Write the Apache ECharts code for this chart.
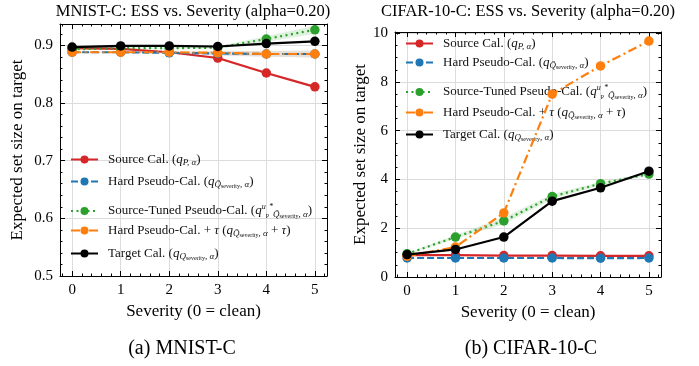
<!DOCTYPE html>
<html>
<head>
<meta charset="utf-8">
<script src="https://cdn.jsdelivr.net/npm/echarts@6/dist/echarts.min.js"></script>
<style>
  html, body { margin: 0; padding: 0; background: #fff; }
  #chart { width: 699px; height: 366px; }
</style>
</head>
<body>
<div id="chart"></div>
<script>
// Severity levels (0 = clean)
const severity = [0, 1, 2, 3, 4, 5];

// MNIST-C expected set size per calibration method
const mnistSource      = [0.895, 0.894, 0.888, 0.878, 0.852, 0.828];
const mnistHard        = [0.888, 0.888, 0.887, 0.886, 0.885, 0.885];
const mnistTuned       = [0.893, 0.895, 0.895, 0.896, 0.911, 0.927];
const mnistHardTau     = [0.888, 0.888, 0.888, 0.887, 0.885, 0.885];
const mnistTarget      = [0.897, 0.899, 0.899, 0.898, 0.903, 0.907];
// MNIST-C spread (half-width of shaded band)
const mnistSourceSd    = [0.001, 0.001, 0.001, 0.002, 0.002, 0.002];
const mnistHardSd      = [0.001, 0.001, 0.001, 0.004, 0.005, 0.006];
const mnistTunedSd     = [0.001, 0.001, 0.001, 0.002, 0.005, 0.007];
const mnistHardTauSd   = [0.001, 0.001, 0.001, 0.004, 0.005, 0.006];

// CIFAR-10-C expected set size per calibration method
const cifarSource      = [0.90, 0.90, 0.88, 0.88, 0.87, 0.87];
const cifarHard        = [0.78, 0.78, 0.78, 0.78, 0.77, 0.78];
const cifarTuned       = [0.95, 1.64, 2.30, 3.30, 3.83, 4.22];
const cifarHardTau     = [0.85, 1.23, 2.63, 7.50, 8.66, 9.68];
const cifarTarget      = [0.92, 1.13, 1.64, 3.11, 3.66, 4.34];
const cifarTunedSd     = [0.02, 0.08, 0.14, 0.10, 0.07, 0.05];

// Tick values
const xTicks      = [0, 1, 2, 3, 4, 5];
const mnistYTicks = [0.5, 0.6, 0.7, 0.8, 0.9];
const cifarYTicks = [0, 2, 4, 6, 8, 10];

const titles   = ['MNIST-C: ESS vs. Severity (alpha=0.20)', 'CIFAR-10-C: ESS vs. Severity (alpha=0.20)'];
const captions = ['(a) MNIST-C', '(b) CIFAR-10-C'];
const xName = 'Severity (0 = clean)';
const yName = 'Expected set size on target';

const names = ['Source Cal.', 'Hard Pseudo-Cal.', 'Source-Tuned Pseudo-Cal.', 'Hard Pseudo-Cal. + τ', 'Target Cal.'];
const colors = ['#d62728', '#1f77b4', '#2ca02c', '#ff7f0e', '#000000'];
const dashes = ['solid', [7, 3], [2, 3.5], [9, 3.5, 2, 3.5], 'solid'];

const SERIF = '"Liberation Serif", "DejaVu Serif", serif';

function minorBetween(majors, step, lo, hi) {
  const out = [];
  const n = Math.round((hi - lo) / step);
  for (let i = 0; i <= n; i++) {
    const v = +(lo + i * step).toFixed(6);
    if (!majors.some(m => Math.abs(m - v) < 1e-9)) out.push(v);
  }
  return out;
}

const xMinor = minorBetween(xTicks, 0.2, -0.2, 5.2);
const mnistYMinor = minorBetween(mnistYTicks, 0.02, 0.52, 0.92);
const cifarYMinor = minorBetween(cifarYTicks, 0.5, 0.5, 9.5);

const grids = [
  { left: 60, top: 24, width: 267, height: 252 },
  { left: 395, top: 32, width: 266, height: 245 }
];

const xAxes = [];
const yAxes = [];
const black = { color: '#000', width: 1 };

function addAxes(gi, yMin, yMax, yMaj, yMin2, yNameGap) {
  const xr = { min: -0.25, max: 5.25 };
  const yr = { min: yMin, max: yMax };
  // bottom major
  xAxes.push(Object.assign({
    type: 'value', gridIndex: gi, position: 'bottom',
    axisLine: { show: true, onZero: false, lineStyle: black },
    axisTick: { show: true, inside: true, length: 5, customValues: xTicks, lineStyle: black },
    axisLabel: { customValues: xTicks, fontFamily: SERIF, fontSize: 15, color: '#000', margin: 7 },
    splitLine: { show: true, lineStyle: { color: '#dcdcdc', width: 1 } },
    name: xName, nameLocation: 'middle', nameGap: 23,
    nameTextStyle: { fontFamily: SERIF, fontSize: 17, color: '#000' }
  }, xr));
  // bottom minor
  xAxes.push(Object.assign({
    type: 'value', gridIndex: gi, position: 'bottom',
    axisLine: { show: false, onZero: false },
    axisTick: { show: true, inside: true, length: 2.5, customValues: xMinor, lineStyle: black },
    axisLabel: { show: false }, splitLine: { show: false }
  }, xr));
  // top major
  xAxes.push(Object.assign({
    type: 'value', gridIndex: gi, position: 'top',
    axisLine: { show: true, onZero: false, lineStyle: black },
    axisTick: { show: true, inside: true, length: 5, customValues: xTicks, lineStyle: black },
    axisLabel: { show: false }, splitLine: { show: false }
  }, xr));
  // top minor
  xAxes.push(Object.assign({
    type: 'value', gridIndex: gi, position: 'top',
    axisLine: { show: false, onZero: false },
    axisTick: { show: true, inside: true, length: 2.5, customValues: xMinor, lineStyle: black },
    axisLabel: { show: false }, splitLine: { show: false }
  }, xr));

  // left major
  yAxes.push(Object.assign({
    type: 'value', gridIndex: gi, position: 'left',
    axisLine: { show: true, onZero: false, lineStyle: black },
    axisTick: { show: true, inside: true, length: 5, customValues: yMaj, lineStyle: black },
    axisLabel: { customValues: yMaj, fontFamily: SERIF, fontSize: 15, color: '#000', margin: 7 },
    splitLine: { show: true, lineStyle: { color: '#dcdcdc', width: 1 } },
    name: yName, nameLocation: 'middle', nameGap: yNameGap, nameRotate: 90,
    nameTextStyle: { fontFamily: SERIF, fontSize: 17, color: '#000' }
  }, yr));
  yAxes.push(Object.assign({
    type: 'value', gridIndex: gi, position: 'left',
    axisLine: { show: false, onZero: false },
    axisTick: { show: true, inside: true, length: 2.5, customValues: yMin2, lineStyle: black },
    axisLabel: { show: false }, splitLine: { show: false }
  }, yr));
  yAxes.push(Object.assign({
    type: 'value', gridIndex: gi, position: 'right',
    axisLine: { show: true, onZero: false, lineStyle: black },
    axisTick: { show: true, inside: true, length: 5, customValues: yMaj, lineStyle: black },
    axisLabel: { show: false }, splitLine: { show: false }
  }, yr));
  yAxes.push(Object.assign({
    type: 'value', gridIndex: gi, position: 'right',
    axisLine: { show: false, onZero: false },
    axisTick: { show: true, inside: true, length: 2.5, customValues: yMin2, lineStyle: black },
    axisLabel: { show: false }, splitLine: { show: false }
  }, yr));
}

addAxes(0, 0.5, 0.937, mnistYTicks, mnistYMinor, 34);
addAxes(1, 0, 10.05, cifarYTicks, cifarYMinor, 25);

function bandSeries(gi, values, sd, color) {
  const rows = severity.map((x, i) => [x, values[i] - sd[i], values[i] + sd[i]]);
  return {
    type: 'custom', xAxisIndex: gi * 4, yAxisIndex: gi * 4, silent: true, z: 1,
    data: rows, encode: { x: 0, y: [1, 2] },
    renderItem: function (params, api) {
      if (params.dataIndex !== 0) return null;
      const upper = rows.map(r => api.coord([r[0], r[2]]));
      const lower = rows.map(r => api.coord([r[0], r[1]])).reverse();
      return {
        type: 'polygon',
        shape: { points: upper.concat(lower) },
        style: { fill: color, stroke: null }
      };
    }
  };
}

function lineSeries(gi, k, values) {
  return {
    type: 'line', name: names[k], xAxisIndex: gi * 4, yAxisIndex: gi * 4,
    data: severity.map((x, i) => [x, values[i]]),
    symbol: 'circle', symbolSize: 9.5, showSymbol: true,
    color: colors[k], z: 2 + k,
    lineStyle: { color: colors[k], width: 2.2, type: dashes[k] },
    itemStyle: { color: colors[k], borderWidth: 0 },
    emphasis: { disabled: true },
    animation: false
  };
}

const series = [
  bandSeries(0, mnistSource, mnistSourceSd, 'rgba(214,39,40,0.15)'),
  bandSeries(0, mnistHard, mnistHardSd, 'rgba(31,119,180,0.12)'),
  bandSeries(0, mnistTuned, mnistTunedSd, 'rgba(44,160,44,0.15)'),
  bandSeries(0, mnistHardTau, mnistHardTauSd, 'rgba(255,127,14,0.12)'),
  bandSeries(1, cifarTuned, cifarTunedSd, 'rgba(44,160,44,0.15)')
];
[mnistSource, mnistHard, mnistTuned, mnistHardTau, mnistTarget].forEach((v, k) => series.push(lineSeries(0, k, v)));
[cifarSource, cifarHard, cifarTuned, cifarHardTau, cifarTarget].forEach((v, k) => series.push(lineSeries(1, k, v)));

// Legend labels with math-style notation
const legendText = [
  '{n|Source Cal. (}{q|q}{s|P, α}{n|)}',
  '{n|Hard Pseudo-Cal. (}{q|q}{s|Q̄}{ss|severity}{s|, α}{n|)}',
  '{n|Source-Tuned Pseudo-Cal. (}{q|q}{sup|u}{ss|P}{sup|*}{s|Q̄}{ss|severity}{s|, α}{n|)}',
  '{n|Hard Pseudo-Cal. + }{q|τ}{n| (}{q|q}{s|Q̄}{ss|severity}{s|, α}{n| + }{q|τ}{n|)}',
  '{n|Target Cal. (}{q|q}{s|Q}{ss|severity}{s|, α}{n|)}'
];
const rich = {
  n: { fontFamily: SERIF, fontSize: 13, color: '#111' },
  q: { fontFamily: SERIF, fontSize: 13, fontStyle: 'italic', color: '#111' },
  s: { fontFamily: SERIF, fontSize: 9, fontStyle: 'italic', color: '#111', verticalAlign: 'bottom', padding: [6, 0, 0, 0] },
  ss: { fontFamily: SERIF, fontSize: 6, color: '#111', verticalAlign: 'bottom', padding: [8, 0, 0, 0] },
  sup: { fontFamily: SERIF, fontSize: 8, fontStyle: 'italic', color: '#111', verticalAlign: 'top', padding: [0, 0, 8, 0] }
};

const legendRows = [
  { x: 70, ys: [162, 184, 212, 233, 256] },
  { x: 405, ys: [46, 65, 93, 115, 137] }
];
const legends = [];
legendRows.forEach(row => {
  names.forEach((nm, k) => {
    legends.push({
      left: row.x, top: row.ys[k] - 9, padding: 0,
      itemWidth: 27, itemHeight: 10, itemGap: 0,
      data: [nm],
      selectedMode: false,
      formatter: () => legendText[k],
      textStyle: { rich: rich, padding: [0, 0, 0, 5] }
    });
  });
});

const chart = echarts.init(document.getElementById('chart'), null, { renderer: 'canvas' });
chart.setOption({
  animation: false,
  backgroundColor: '#fff',
  title: [
    { text: titles[0], left: 193, top: 3, textAlign: 'center', padding: 0,
      textStyle: { fontFamily: SERIF, fontSize: 16.5, fontWeight: 'normal', color: '#000' } },
    { text: titles[1], left: 528, top: 3, textAlign: 'center', padding: 0,
      textStyle: { fontFamily: SERIF, fontSize: 16.5, fontWeight: 'normal', color: '#000' } }
  ],
  grid: grids,
  xAxis: xAxes,
  yAxis: yAxes,
  legend: legends,
  series: series,
  graphic: [
    { type: 'text', x: 182, y: 349, style: { text: captions[0], font: '20px ' + SERIF, fill: '#000', textAlign: 'center', textVerticalAlign: 'middle' } },
    { type: 'text', x: 531, y: 349, style: { text: captions[1], font: '20px ' + SERIF, fill: '#000', textAlign: 'center', textVerticalAlign: 'middle' } }
  ]
});
</script>
</body>
</html>
